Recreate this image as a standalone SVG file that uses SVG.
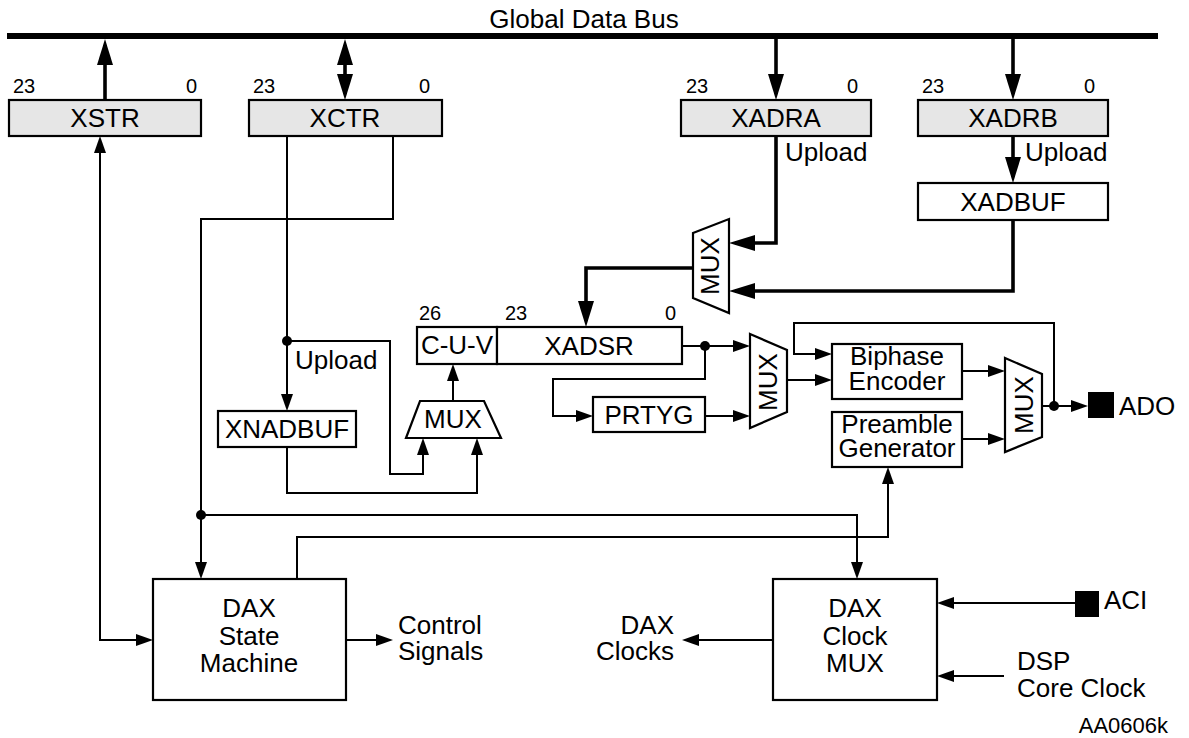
<svg xmlns="http://www.w3.org/2000/svg" width="1189" height="738" viewBox="0 0 1189 738">
<style>
text{font-family:"Liberation Sans",Arial,Helvetica,sans-serif;fill:#000;font-size:26px}
.bit{font-size:20px}
.c{text-anchor:middle}
.e{text-anchor:end}
.box{fill:#fff;stroke:#000;stroke-width:2.2}
.reg{fill:#e6e6e6;stroke:#000;stroke-width:2.2}
.thin{fill:none;stroke:#000;stroke-width:2}
.thick{fill:none;stroke:#000;stroke-width:3.6}
.ta{marker-end:url(#a)}
.TA{marker-end:url(#A)}
</style>
<defs>
<marker id="a" markerUnits="userSpaceOnUse" markerWidth="18" markerHeight="12" refX="14" refY="6" orient="auto-start-reverse" viewBox="0 0 18 12">
<path d="M0,0 L17,6 L0,12 z" fill="#000"/>
</marker>
<marker id="A" markerUnits="userSpaceOnUse" markerWidth="26" markerHeight="16" refX="20" refY="8" orient="auto-start-reverse" viewBox="0 0 26 16">
<path d="M0,0 L26,8 L0,16 z" fill="#000"/>
</marker>
</defs>

<g id="bus">
<line x1="7" y1="36" x2="1158" y2="36" stroke="#000" stroke-width="6"/>
<text x="584" y="28" class="c">Global Data Bus</text>
</g>

<g id="xstr">
<rect class="reg" x="9" y="100" width="192" height="36"/>
<text x="105" y="127" class="c">XSTR</text>
<text x="13" y="93" class="bit">23</text>
<text x="197" y="93" class="bit e">0</text>
</g>
<g id="xctr">
<rect class="reg" x="249" y="100" width="193" height="36"/>
<text x="345" y="127" class="c">XCTR</text>
<text x="253" y="93" class="bit">23</text>
<text x="430" y="93" class="bit e">0</text>
</g>
<g id="xadra">
<rect class="reg" x="681" y="100" width="190" height="36"/>
<text x="776" y="127" class="c">XADRA</text>
<text x="686" y="93" class="bit">23</text>
<text x="858" y="93" class="bit e">0</text>
</g>
<g id="xadrb">
<rect class="reg" x="918" y="100" width="190" height="36"/>
<text x="1013" y="127" class="c">XADRB</text>
<text x="922" y="93" class="bit">23</text>
<text x="1095" y="93" class="bit e">0</text>
</g>
<g id="xadbuf">
<rect class="box" x="918" y="183" width="190" height="37"/>
<text x="1013" y="211" class="c">XADBUF</text>
</g>
<g id="mux1">
<polygon class="box" points="693,233 729,219 729,313 693,298"/>
<text transform="translate(719,266) rotate(-90)" class="c">MUX</text>
</g>
<g id="cuv">
<rect class="box" x="417" y="327" width="80" height="37"/>
<text x="457" y="354" class="c">C-U-V</text>
<text x="419" y="320" class="bit">26</text>
</g>
<g id="xadsr">
<rect class="box" x="497" y="327" width="185" height="37"/>
<text x="589" y="355" class="c">XADSR</text>
<text x="505" y="320" class="bit">23</text>
<text x="676" y="320" class="bit e">0</text>
</g>
<g id="xnadbuf">
<rect class="box" x="218" y="411" width="138" height="36"/>
<text x="287" y="438" class="c">XNADBUF</text>
</g>
<g id="mux-cuv">
<polygon class="box" points="420,401 484,401 501,438 406,438"/>
<text x="453" y="428" class="c">MUX</text>
</g>
<g id="prtyg">
<rect class="box" x="593" y="397" width="112" height="35"/>
<text x="649" y="424" class="c">PRTYG</text>
</g>
<g id="mux2">
<polygon class="box" points="750,334 787,350 787,412 750,428"/>
<text transform="translate(777,382) rotate(-90)" class="c">MUX</text>
</g>
<g id="biphase">
<rect class="box" x="832" y="344" width="130" height="55"/>
<text x="897" y="365" class="c">Biphase</text>
<text x="897" y="390" class="c">Encoder</text>
</g>
<g id="preamble">
<rect class="box" x="832" y="412" width="130" height="55"/>
<text x="897" y="433" class="c">Preamble</text>
<text x="897" y="457" class="c">Generator</text>
</g>
<g id="mux3">
<polygon class="box" points="1005,358 1042,374 1042,437 1005,452"/>
<text transform="translate(1033,405) rotate(-90)" class="c">MUX</text>
</g>
<g id="ado">
<rect x="1088" y="392" width="26" height="26" fill="#000"/>
<text x="1119" y="415">ADO</text>
</g>
<g id="dax-sm">
<rect class="box" x="153" y="579" width="193" height="121"/>
<text x="249" y="617" class="c">DAX</text>
<text x="249" y="645" class="c">State</text>
<text x="249" y="672" class="c">Machine</text>
</g>
<g id="control-signals">
<text x="398" y="634">Control</text>
<text x="398" y="660">Signals</text>
</g>
<g id="dax-clock-mux">
<rect class="box" x="773" y="579" width="164" height="121"/>
<text x="855" y="617" class="c">DAX</text>
<text x="855" y="645" class="c">Clock</text>
<text x="855" y="672" class="c">MUX</text>
</g>
<g id="dax-clocks">
<text x="674" y="634" class="e">DAX</text>
<text x="674" y="660" class="e">Clocks</text>
</g>
<g id="aci">
<rect x="1075" y="591" width="24" height="26" fill="#000"/>
<text x="1104" y="609">ACI</text>
</g>
<g id="dsp">
<text x="1017" y="670">DSP</text>
<text x="1017" y="697">Core Clock</text>
</g>
<g id="upload-labels">
<text x="785" y="161">Upload</text>
<text x="1025" y="161">Upload</text>
<text x="295" y="369">Upload</text>
</g>
<text x="1168" y="733" class="e" style="font-size:22px">AA0606k</text>

<g id="connectors">
<path class="thick TA" d="M105,100 V45"/>
<path class="thick TA" d="M345,94 V45" marker-start="url(#A)"/>
<path class="thick TA" d="M776,39 V94"/>
<path class="thick TA" d="M1013,39 V94"/>
<path class="thick TA" d="M776,136 V243 H735"/>
<path class="thick TA" d="M1013,136 V177"/>
<path class="thick TA" d="M1013,220 V291 H735"/>
<path class="thick TA" d="M693,268 H586 V321"/>

<path class="thin ta" d="M287,136 V408"/>
<path class="thin ta" d="M287,341 H390 V474 H423 V441"/>
<path class="thin ta" d="M287,447 V493 H477 V441"/>
<path class="thin ta" d="M453,401 V367"/>
<path class="thin ta" d="M393,136 V219 H201 V576"/>
<path class="thin ta" d="M201,515 H857 V576"/>
<path class="thin ta" d="M297,579 V537 H888 V470"/>
<path class="thin ta" d="M100,139 V640 H150" marker-start="url(#a)"/>
<path class="thin ta" d="M346,640 H390"/>
<path class="thin ta" d="M773,640 H685"/>
<path class="thin ta" d="M1075,603 H940"/>
<path class="thin ta" d="M1004,676 H940"/>
<path class="thin ta" d="M682,346 H747"/>
<path class="thin ta" d="M705,346 V379 H553 V416 H590"/>
<path class="thin ta" d="M705,416 H747"/>
<path class="thin ta" d="M787,380 H829"/>
<path class="thin ta" d="M962,371 H1002"/>
<path class="thin ta" d="M962,439 H1002"/>
<path class="thin ta" d="M1042,406 H1085"/>
<path class="thin ta" d="M1054,406 V323 H794 V354 H829"/>
<circle cx="287" cy="341" r="5"/>
<circle cx="201" cy="515" r="5"/>
<circle cx="705" cy="346" r="5"/>
<circle cx="1054" cy="406" r="5"/>
</g>
</svg>
